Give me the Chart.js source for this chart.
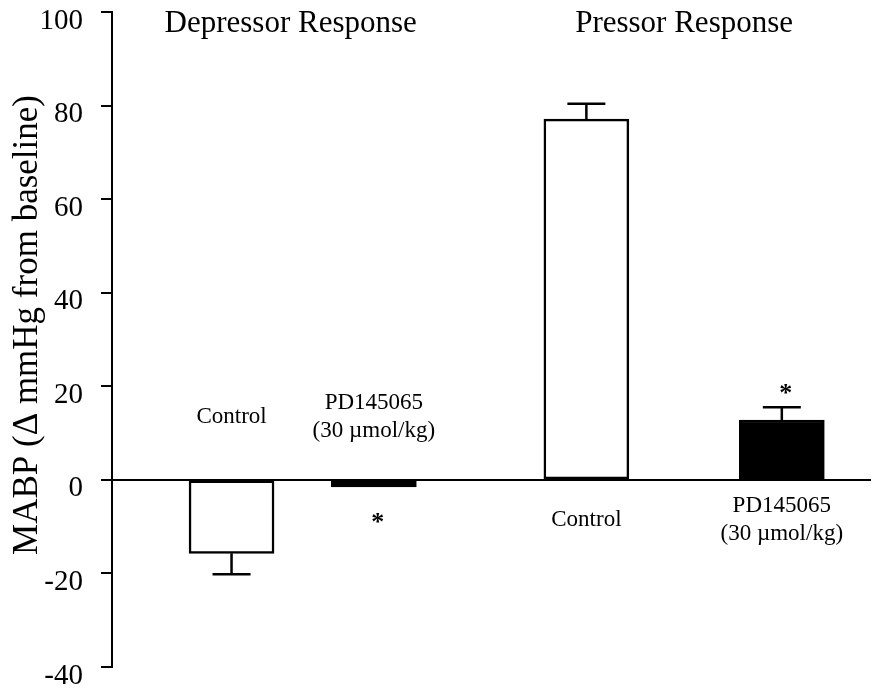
<!DOCTYPE html>
<html>
<head>
<meta charset="utf-8">
<script src="https://cdn.jsdelivr.net/npm/chart.js@4"></script>
<style>
  body { margin: 0; background: #fff; }
  canvas { display: block; }
</style>
</head>
<body>
<canvas id="grafico" width="880" height="688"></canvas>
<script>
// Datos
const grupos = ['Depressor Response', 'Pressor Response'];
const grupoDeBarra = [0, 0, 1, 1];
const categorias = ['Control', 'PD145065\n(30 µmol/kg)', 'Control', 'PD145065\n(30 µmol/kg)'];
const valores = [-15.7, -1.5, 77.1, 12.8];      // MABP (Δ mmHg)
const errores = [4.5, 0, 3.3, 2.7];             // error estandar
const significativo = [false, true, false, true];
const tratado = [false, true, false, true];     // barras negras = PD145065
const ranuraX = [15.75, 34.5, 62.5, 88.25];     // lugar de cada barra en el eje x (0-100)
const ticksY = [-40, -20, 0, 20, 40, 60, 80, 100];
const tituloY = 'MABP (Δ mmHg from baseline)';

const fuente = 'Liberation Serif, Times New Roman, serif';

// Dibuja barras de error, etiquetas, asteriscos y titulos
const extras = {
    id: 'extras',
    afterDatasetsDraw(chart) {
        const ctx = chart.ctx;
        const y = chart.scales.y;
        const barras = chart.getDatasetMeta(0).data;
        const cero = y.getPixelForValue(0);

        ctx.save();
        ctx.strokeStyle = '#000';
        ctx.fillStyle = '#000';
        ctx.lineWidth = 2.5;

        barras.forEach((barra, i) => {
            const signo = valores[i] < 0 ? -1 : 1;
            const fin = y.getPixelForValue(valores[i] + signo * errores[i]);

            // barra de error (solo hacia fuera)
            if (errores[i] > 0) {
                ctx.beginPath();
                ctx.moveTo(barra.x, barra.y);
                ctx.lineTo(barra.x, fin);
                ctx.moveTo(barra.x - 19, fin);
                ctx.lineTo(barra.x + 19, fin);
                ctx.stroke();
            }

            // etiqueta de la categoria
            const lineas = categorias[i].split('\n');
            const centro = signo < 0 ? cero - 63 : cero + 40;
            ctx.font = '23px ' + fuente;
            ctx.textAlign = 'center';
            ctx.textBaseline = 'middle';
            lineas.forEach((txt, k) => {
                ctx.fillText(txt, barra.x, centro + (k - (lineas.length - 1) / 2) * 28);
            });

            // asterisco de significancia
            if (significativo[i]) {
                ctx.font = 'bold 26px ' + fuente;
                const ya = signo < 0 ? Math.max(barra.y, fin) + 36 : Math.min(barra.y, fin) - 13;
                ctx.fillText('*', barra.x + 4, ya);
            }
        });

        // titulos de cada grupo
        ctx.font = '31px ' + fuente;
        grupos.forEach((g, gi) => {
            const xs = barras.filter((b, i) => grupoDeBarra[i] === gi).map(b => b.x);
            const xm = (Math.min(...xs) + Math.max(...xs)) / 2;
            ctx.fillText(g, xm - (gi === 0 ? 12 : 0), 24);
        });

        // titulo del eje y
        ctx.translate(28, 325);
        ctx.rotate(-Math.PI / 2);
        ctx.font = '35px ' + fuente;
        ctx.fillText(tituloY, 0, 0);
        ctx.restore();
    }
};

const ctx = document.getElementById('grafico').getContext('2d');
new Chart(ctx, {
    type: 'bar',
    data: {
        datasets: [{
            data: valores.map((v, i) => ({ x: ranuraX[i], y: v })),
            backgroundColor: tratado.map(t => t ? '#000' : '#fff'),
            borderColor: '#000',
            borderWidth: 2.5,
            borderSkipped: false,
            barThickness: 85
        }]
    },
    options: {
        responsive: false,
        animation: false,
        layout: {
            padding: { top: 12, right: 9, bottom: 21, left: 0 }
        },
        plugins: {
            legend: { display: false },
            tooltip: { enabled: false }
        },
        scales: {
            x: {
                type: 'linear',
                min: 0,
                max: 100,
                offset: false,
                display: false
            },
            y: {
                min: -40,
                max: 100,
                afterBuildTicks: scale => { scale.ticks = ticksY.map(v => ({ value: v })); },
                afterFit: scale => {
                    scale.width = 112;
                    scale.paddingTop = 0;
                    scale.paddingBottom = 0;
                },
                border: { display: true, color: '#000', width: 2 },
                grid: {
                    drawOnChartArea: true,
                    color: c => (c.tick && c.tick.value === 0) ? '#000' : 'rgba(0,0,0,0)',
                    lineWidth: 2,
                    tickColor: '#000',
                    tickWidth: 2,
                    tickLength: 11
                },
                ticks: {
                    color: '#000',
                    font: { family: fuente, size: 29 },
                    padding: 18,
                    labelOffset: 9
                }
            }
        }
    },
    plugins: [extras]
});
</script>
</body>
</html>
